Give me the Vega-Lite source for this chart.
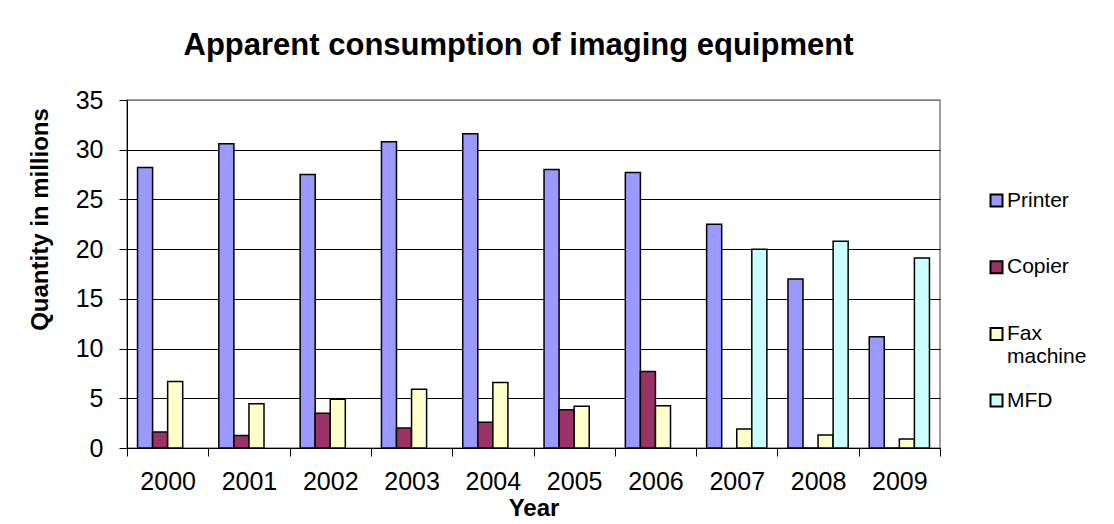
{
  "$schema": "https://vega.github.io/schema/vega-lite/v6.json",
  "width": 813,
  "height": 348,
  "autosize": {"type": "none"},
  "padding": {"left": 127, "top": 100, "right": 174, "bottom": 76},
  "background": "white",
  "title": {
    "text": "Apparent consumption of imaging equipment",
    "font": "Liberation Sans",
    "fontSize": 31,
    "fontWeight": "bold",
    "color": "black",
    "anchor": "middle",
    "frame": "group",
    "dx": -15,
    "baseline": "alphabetic",
    "offset": 2
  },
  "data": {
    "values": [
      {"year": "2000", "type": "Printer", "value": 28.2},
      {"year": "2000", "type": "Copier", "value": 1.6},
      {"year": "2000", "type": "Fax machine", "value": 6.7},
      {"year": "2001", "type": "Printer", "value": 30.6},
      {"year": "2001", "type": "Copier", "value": 1.25},
      {"year": "2001", "type": "Fax machine", "value": 4.45},
      {"year": "2002", "type": "Printer", "value": 27.5},
      {"year": "2002", "type": "Copier", "value": 3.5},
      {"year": "2002", "type": "Fax machine", "value": 4.9},
      {"year": "2003", "type": "Printer", "value": 30.8},
      {"year": "2003", "type": "Copier", "value": 2.0},
      {"year": "2003", "type": "Fax machine", "value": 5.9},
      {"year": "2004", "type": "Printer", "value": 31.6},
      {"year": "2004", "type": "Copier", "value": 2.6},
      {"year": "2004", "type": "Fax machine", "value": 6.6},
      {"year": "2005", "type": "Printer", "value": 28.0},
      {"year": "2005", "type": "Copier", "value": 3.85},
      {"year": "2005", "type": "Fax machine", "value": 4.2},
      {"year": "2006", "type": "Printer", "value": 27.7},
      {"year": "2006", "type": "Copier", "value": 7.7},
      {"year": "2006", "type": "Fax machine", "value": 4.25},
      {"year": "2007", "type": "Printer", "value": 22.5},
      {"year": "2007", "type": "Fax machine", "value": 1.9},
      {"year": "2007", "type": "MFD", "value": 20.0},
      {"year": "2008", "type": "Printer", "value": 17.0},
      {"year": "2008", "type": "Copier", "value": 0},
      {"year": "2008", "type": "Fax machine", "value": 1.3},
      {"year": "2008", "type": "MFD", "value": 20.8},
      {"year": "2009", "type": "Printer", "value": 11.2},
      {"year": "2009", "type": "Copier", "value": 0},
      {"year": "2009", "type": "Fax machine", "value": 0.9},
      {"year": "2009", "type": "MFD", "value": 19.1}
    ]
  },
  "mark": {"type": "bar", "stroke": "black", "strokeWidth": 1.5},
  "encoding": {
    "x": {
      "field": "year",
      "type": "nominal",
      "scale": {"paddingInner": 0, "paddingOuter": 0},
      "axis": {
        "title": "Year",
        "titleFont": "Liberation Sans",
        "titleFontSize": 24,
        "titleFontWeight": "bold",
        "titleColor": "black",
        "titleBaseline": "alphabetic",
        "titleY": 67,
        "labelAngle": 0,
        "labelFont": "Liberation Sans",
        "labelFontSize": 25,
        "labelColor": "black",
        "labelBaseline": "alphabetic",
        "labelPadding": 33,
        "tickBand": "extent",
        "tickSize": 8,
        "tickColor": "black",
        "domainColor": "black",
        "grid": false
      }
    },
    "xOffset": {
      "field": "type",
      "type": "nominal",
      "scale": {"domain": ["Printer", "Copier", "Fax machine", "MFD"], "paddingInner": 0, "paddingOuter": 0.7}
    },
    "y": {
      "field": "value",
      "type": "quantitative",
      "scale": {"domain": [0, 35], "nice": false},
      "axis": {
        "title": "Quantity in millions",
        "titleFont": "Liberation Sans",
        "titleFontSize": 24,
        "titleFontWeight": "bold",
        "titleColor": "black",
        "titleX": -87,
        "titleY": 119,
        "titleBaseline": "middle",
        "values": [0, 5, 10, 15, 20, 25, 30, 35],
        "labelFont": "Liberation Sans",
        "labelFontSize": 25,
        "labelColor": "black",
        "labelPadding": 16,
        "tickSize": 8,
        "tickColor": "black",
        "domainColor": "black",
        "grid": true,
        "gridColor": {"condition": {"test": "datum.value == 35", "value": "#808080"}, "value": "black"},
        "gridWidth": 1
      }
    },
    "color": {
      "field": "type",
      "type": "nominal",
      "scale": {
        "domain": ["Printer", "Copier", "Fax machine", "MFD"],
        "range": ["#9999FF", "#993366", "#FFFFCC", "#CCFFFF"]
      },
      "legend": {
        "title": null,
        "orient": "none",
        "legendX": 859,
        "legendY": 90,
        "symbolType": "square",
        "symbolSize": 144,
        "symbolStrokeColor": "black",
        "symbolStrokeWidth": 2,
        "symbolOpacity": 1,
        "labelFont": "Liberation Sans",
        "labelFontSize": 21,
        "labelColor": "black",
        "labelOffset": 0,
        "labelExpr": "datum.label == 'Fax machine' ? ['Fax', 'machine'] : datum.label",
        "gridAlign": "all",
        "rowPadding": 21.7
      }
    }
  },
  "config": {
    "view": {"stroke": "#808080", "strokeWidth": 1.5}
  }
}
